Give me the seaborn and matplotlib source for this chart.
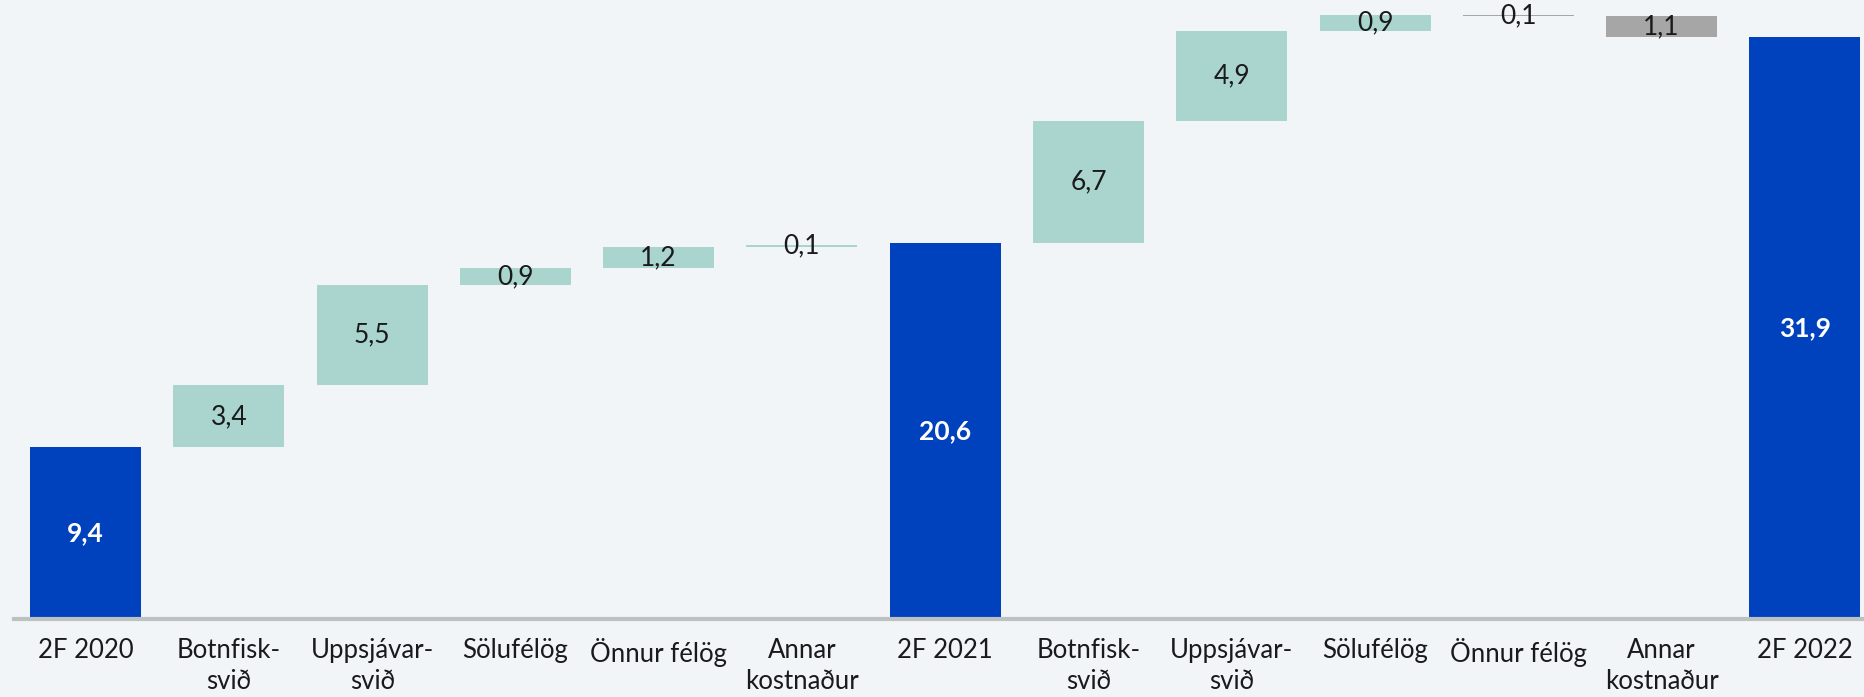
import numpy as np
import pandas as pd
import seaborn as sns
from matplotlib import pyplot as plt

categories = ["2F 2020", "Botnfisk-\nsvið", "Uppsjávar-\nsvið", "Sölufélög", "Önnur félög",
              "Annar\nkostnaður", "2F 2021", "Botnfisk-\nsvið", "Uppsjávar-\nsvið", "Sölufélög",
              "Önnur félög", "Annar\nkostnaður", "2F 2022"]
values = [9.4, 3.4, 5.5, 0.9, 1.2, 0.1, 20.6, 6.7, 4.9, 0.9, -0.1, -1.1, 31.9]
is_total = [True, False, False, False, False, False, True, False, False, False, False, False, True]

BLUE = "#0041BE"
TEAL = "#A9D5CE"
GREY = "#A6A6A6"
BG = "#F1F5F8"

df = pd.DataFrame({"cat": categories, "value": values, "total": is_total})

# waterfall bottoms
bottoms, heights, colors = [], [], []
run = 0.0
for v, t in zip(df["value"], df["total"]):
    if t:
        bottoms.append(0)
        heights.append(v)
        colors.append(BLUE)
        run = v
    else:
        if v >= 0:
            bottoms.append(run)
            colors.append(TEAL)
        else:
            bottoms.append(run + v)
            colors.append(GREY)
        heights.append(abs(v))
        run += v
df["bottom"] = bottoms
df["height"] = heights

sns.set_theme(style="white")
plt.rcParams["font.family"] = ["Lato", "DejaVu Sans"]

fig = plt.figure(figsize=(18.65, 6.97), dpi=100, facecolor=BG)
ax = fig.add_axes([14 / 1865, 78 / 697, 1 - 14 / 1865, 1 - 78 / 697])
ax.set_facecolor(BG)

x = np.arange(len(df))
ax.bar(x, df["height"], bottom=df["bottom"], width=0.775, color=colors, linewidth=0)

for i, row in df.iterrows():
    y = row["bottom"] + row["height"] / 2
    txt = f"{abs(row['value']):.1f}".replace(".", ",")
    if row["total"]:
        ax.text(i, y, txt, ha="center", va="center", fontsize=19, color="white", fontweight="bold")
    else:
        ax.text(i, y, txt, ha="center", va="center", fontsize=19, color="#1A1A1A")

ax.set_xlim(-0.5, 12.42)
ax.set_ylim(0, 33.9)
ax.set_xticks(x)
ax.set_xticklabels(df["cat"], fontsize=18.5, color="#1A1A1A", linespacing=1.3)
ax.tick_params(axis="x", length=0, pad=14)
ax.set_yticks([])
sns.despine(ax=ax, left=True, right=True, top=True)
ax.spines["bottom"].set_color("#BCC2C2")
ax.spines["bottom"].set_linewidth(3)

fig.savefig("out.png", dpi=100, facecolor=BG)
